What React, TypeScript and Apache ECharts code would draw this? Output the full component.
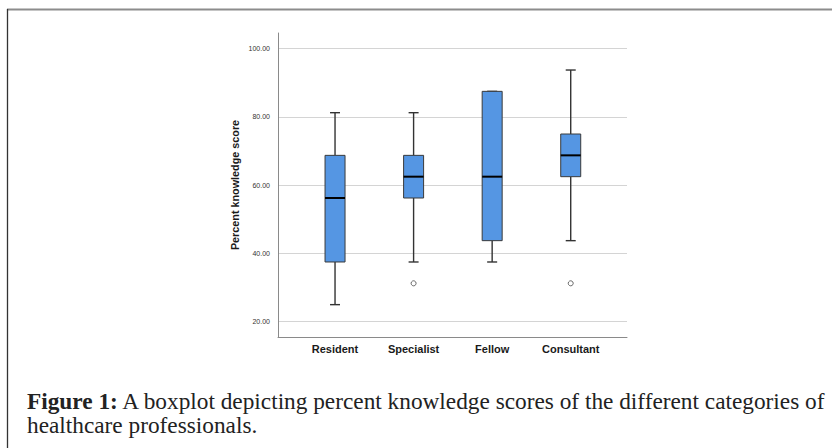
import React, { useEffect, useRef } from "react";
import * as echarts from "echarts";

const categories = ["Resident", "Specialist", "Fellow", "Consultant"];
const whiskerLow = [25, 37.5, 37.5, 43.75];
const quartile1 = [37.5, 56.25, 43.75, 62.5];
const medians = [56.25, 62.5, 62.5, 68.75];
const quartile3 = [68.75, 68.75, 87.5, 75];
const whiskerHigh = [81.25, 81.25, 87.5, 93.75];
const outlierCategories = ["Specialist", "Consultant"];
const outlierValues = [31.25, 31.25];
const yTicks = [20, 40, 60, 80, 100];
const yMin = 15.52;
const yMax = 104.6;

const captionLine1 = "A boxplot depicting percent knowledge scores of the different categories of";
const captionLine2 = "healthcare professionals.";

export default function App() {
  const ref = useRef<HTMLDivElement>(null);
  useEffect(() => {
    document.body.style.margin = "0";
    const chart = echarts.init(ref.current!, null, { renderer: "svg" });
    const boxData = categories.map((c, i) => [i, whiskerLow[i], quartile1[i], medians[i], quartile3[i], whiskerHigh[i]]);
    const outData = outlierCategories.map((c, i) => [categories.indexOf(c), outlierValues[i]]);
    const serif = "Liberation Serif, Times New Roman, serif";
    const capSize = 23.3;
    chart.setOption({
      animation: false,
      backgroundColor: "#ffffff",
      textStyle: { fontFamily: "Liberation Sans, Arial, sans-serif" },
      grid: [
        { left: 278, right: 205, top: 33, bottom: 111 },
        { left: 295.75, right: 222, top: 33, bottom: 111 },
      ],
      xAxis: [
        {
          gridIndex: 0, type: "value", min: 0, max: 1,
          axisLine: { show: true, lineStyle: { color: "#8a8a8a", width: 1 } },
          axisTick: { show: false }, axisLabel: { show: false }, splitLine: { show: false },
        },
        {
          gridIndex: 1, type: "category", data: categories,
          axisLine: { show: false }, axisTick: { show: false }, splitLine: { show: false },
          axisLabel: { fontSize: 11, fontWeight: "bold", color: "#1a1a1a", margin: 6 },
        },
      ],
      yAxis: [
        {
          gridIndex: 0, type: "value", min: yMin, max: yMax,
          name: "Percent knowledge score", nameLocation: "middle", nameGap: 38,
          nameTextStyle: { fontSize: 10.8, fontWeight: "bold", color: "#1a1a1a" },
          axisLine: { show: true, lineStyle: { color: "#8a8a8a", width: 1 } },
          axisTick: { show: false, customValues: yTicks },
          axisLabel: { customValues: yTicks, fontSize: 7, color: "#333", margin: 8, formatter: (v: number) => v.toFixed(2) },
          splitLine: { show: true, lineStyle: { color: "#d4d4d4", width: 1.2 } },
        },
        {
          gridIndex: 1, type: "value", min: yMin, max: yMax, show: false,
          splitLine: { show: false },
        },
      ],
      series: [
        {
          type: "custom",
          xAxisIndex: 1, yAxisIndex: 1,
          data: boxData,
          renderItem: (params: any, api: any) => {
            const x = api.value(0);
            const pLow = api.coord([x, api.value(1)]);
            const pQ1 = api.coord([x, api.value(2)]);
            const pMed = api.coord([x, api.value(3)]);
            const pQ3 = api.coord([x, api.value(4)]);
            const pHigh = api.coord([x, api.value(5)]);
            const cx = pQ1[0];
            const bw = 20;
            const cap = 5;
            const wStyle = { stroke: "#333", lineWidth: 1.4 };
            return {
              type: "group",
              children: [
                { type: "line", shape: { x1: cx, y1: pQ1[1], x2: cx, y2: pLow[1] }, style: wStyle },
                { type: "line", shape: { x1: cx, y1: pQ3[1], x2: cx, y2: pHigh[1] }, style: wStyle },
                { type: "line", shape: { x1: cx - cap, y1: pLow[1], x2: cx + cap, y2: pLow[1] }, style: wStyle },
                { type: "line", shape: { x1: cx - cap, y1: pHigh[1], x2: cx + cap, y2: pHigh[1] }, style: wStyle },
                {
                  type: "rect",
                  shape: { x: cx - bw / 2, y: pQ3[1], width: bw, height: Math.max(pQ1[1] - pQ3[1], 0.5) },
                  style: { fill: "#5596e3", stroke: "#3a3a3a", lineWidth: 1 },
                },
                { type: "line", shape: { x1: cx - bw / 2, y1: pMed[1], x2: cx + bw / 2, y2: pMed[1] }, style: { stroke: "#000", lineWidth: 2 } },
              ],
            };
          },
        },
        {
          type: "scatter",
          xAxisIndex: 1, yAxisIndex: 1,
          data: outData,
          symbol: "circle", symbolSize: 5,
          itemStyle: { color: "#ffffff", borderColor: "#444", borderWidth: 1 },
        },
      ],
      graphic: [
        { type: "line", shape: { x1: 7, y1: 9.5, x2: 832, y2: 9.5 }, style: { stroke: "#8c8c8c", lineWidth: 2 } },
        { type: "line", shape: { x1: 7.5, y1: 9, x2: 7.5, y2: 448 }, style: { stroke: "#333", lineWidth: 1.3 } },
        {
          type: "text", x: 27, y: 401,
          style: {
            text: "{b|Figure 1:} " + captionLine1,
            fontFamily: serif, fontSize: capSize, fill: "#222",
            verticalAlign: "middle",
            rich: { b: { fontWeight: "bold", fontFamily: serif, fontSize: capSize, fill: "#222" } },
          },
        },
        {
          type: "text", x: 27, y: 425,
          style: {
            text: captionLine2,
            fontFamily: serif, fontSize: capSize, fill: "#222",
            verticalAlign: "middle",
          },
        },
      ],
    });
    return () => chart.dispose();
  }, []);
  return <div ref={ref} style={{ width: 832, height: 448 }} />;
}
